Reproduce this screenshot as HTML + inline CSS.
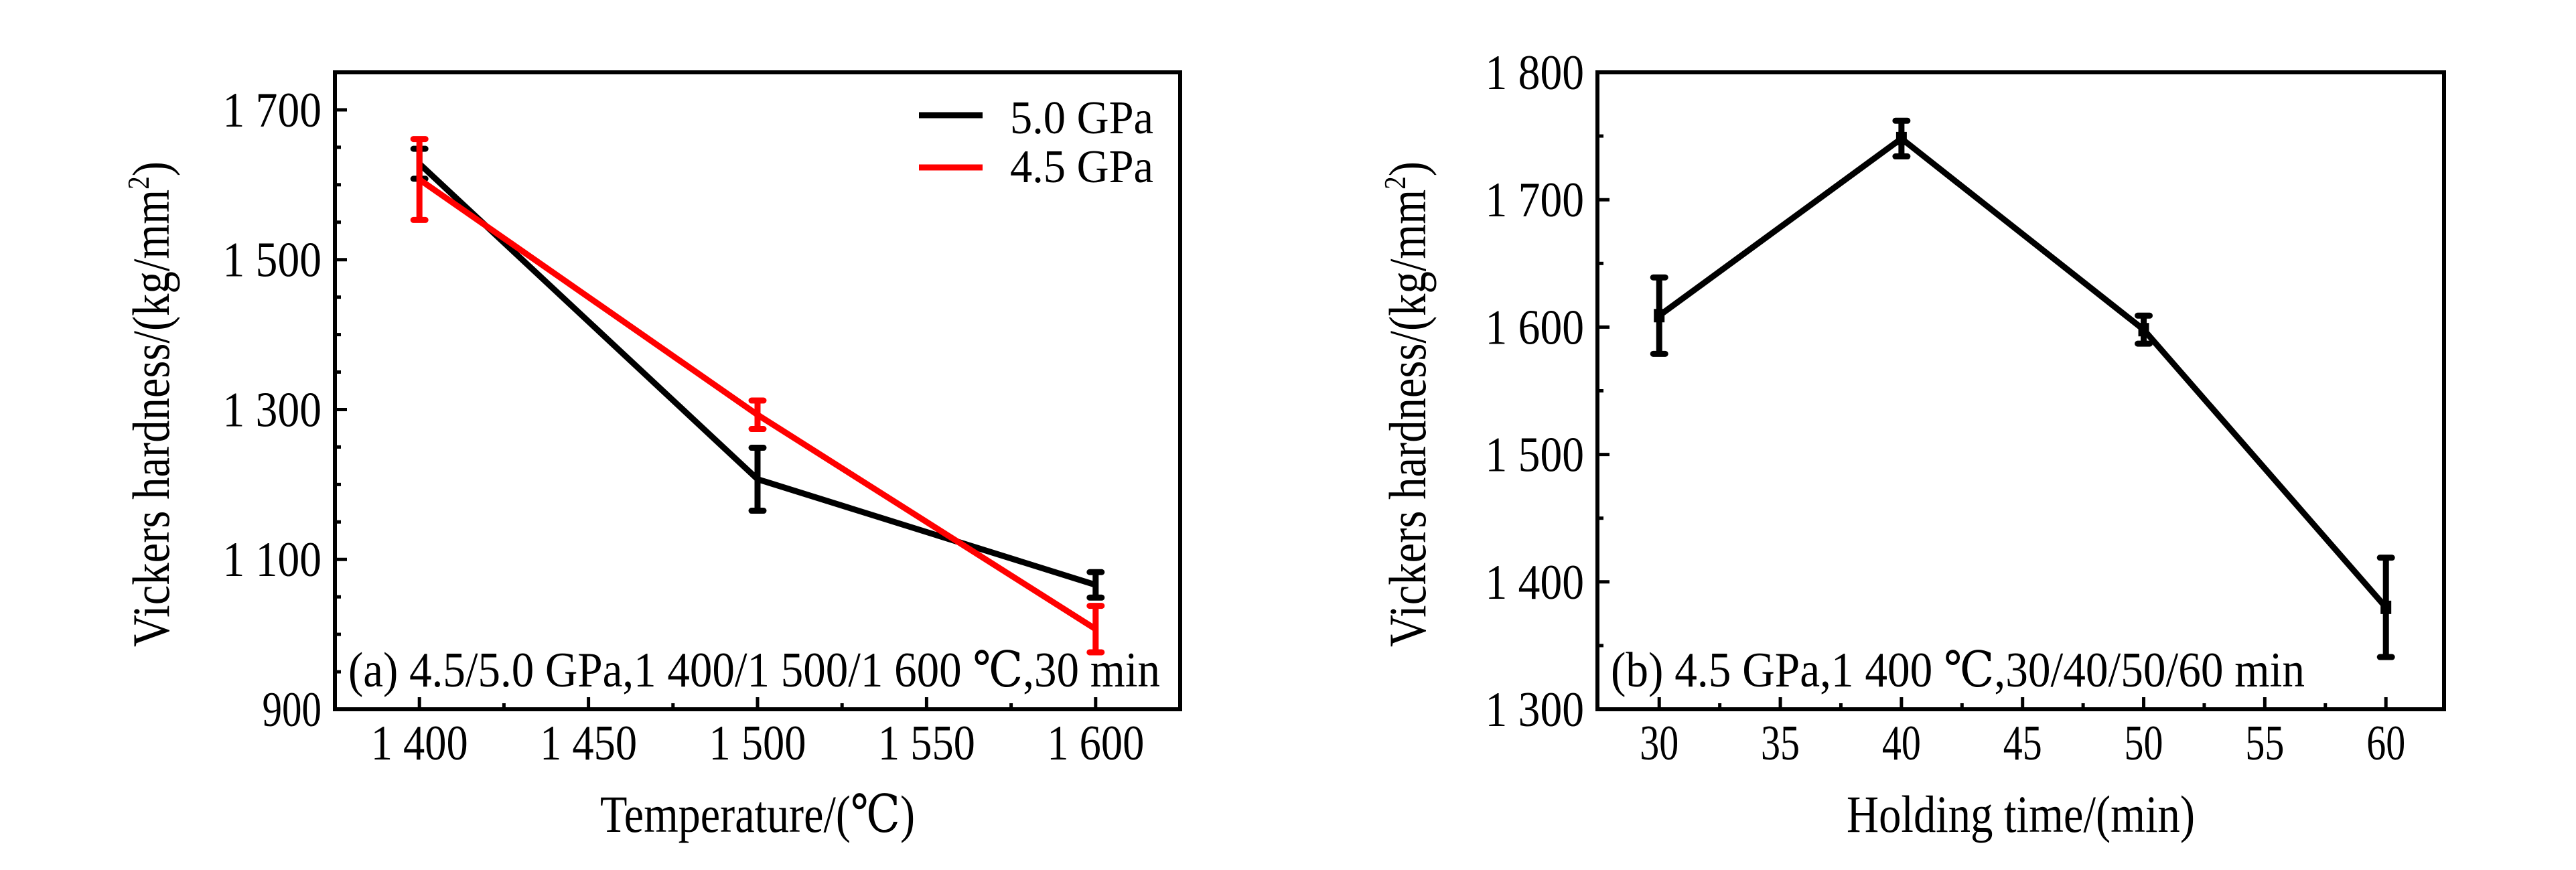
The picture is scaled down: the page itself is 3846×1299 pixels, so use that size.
<!DOCTYPE html>
<html><head><meta charset="utf-8"><style>
html,body{margin:0;padding:0;background:#fff}
svg{display:block}
text{font-family:"Liberation Serif","DejaVu Serif",serif;fill:#000}
</style></head><body>
<svg id="chart" width="3846" height="1299" viewBox="0 0 3846 1299" xmlns="http://www.w3.org/2000/svg" font-family="Liberation Serif, DejaVu Serif, serif"></svg>
<script>
// Panel (a) data
const tempCats = [1400, 1500, 1600];
const hv50 = [1628, 1207, 1066];
const hv50Err = [20, 42, 17];
const hv45 = [1607, 1293, 1007];
const hv45Err = [54, 19, 31];
const aXTicks = [1400, 1450, 1500, 1550, 1600];
const aXLabels = ["1 400", "1 450", "1 500", "1 550", "1 600"];
const aYTicks = [900, 1100, 1300, 1500, 1700];
const aYLabels = ["900", "1 100", "1 300", "1 500", "1 700"];
// Panel (b) data
const timeCats = [30, 40, 50, 60];
const hvTime = [1609, 1748, 1598, 1380];
const hvTimeErr = [30, 14, 11, 39];
const bXTicks = [30, 35, 40, 45, 50, 55, 60];
const bXLabels = ["30", "35", "40", "45", "50", "55", "60"];
const bYTicks = [1300, 1400, 1500, 1600, 1700, 1800];
const bYLabels = ["1 300", "1 400", "1 500", "1 600", "1 700", "1 800"];

const NS = "http://www.w3.org/2000/svg";
const svg = document.getElementById("chart");
const FF = "'Liberation Serif', 'DejaVu Serif', serif";
function mk(tag, attrs, parent) {
  const e = document.createElementNS(NS, tag);
  for (const k in attrs) e.setAttribute(k, attrs[k]);
  (parent || svg).appendChild(e);
  return e;
}
function txt(str, attrs, parent) { attrs["font-family"] = FF; const t = mk("text", attrs, parent); t.textContent = str; return t; }

function panel(cfg) {
  const g = mk("g", {});
  
  
  const L = cfg.L, R = cfg.R, T = cfg.T, B = cfg.B;
  const sx = v => L + (v - cfg.xmin) / (cfg.xmax - cfg.xmin) * (R - L);
  const sy = v => B - (v - cfg.ymin) / (cfg.ymax - cfg.ymin) * (B - T);
  for (let v = cfg.xMinorStart; v <= cfg.xmax; v += cfg.xMinor) {
    const x = sx(v); const major = cfg.xTicks.includes(v);
    const t = mk("line", {x1: x, x2: x, y1: B, y2: B - (major ? 18 : 9), stroke: "#000", "stroke-width": 5}, g);
    
    
  }
  for (let v = cfg.ymin; v <= cfg.ymax; v += cfg.yMinor) {
    const y = sy(v); const major = cfg.yTicks.includes(v);
    const t = mk("line", {x1: L, x2: L + (major ? 18 : 9), y1: y, y2: y, stroke: "#000", "stroke-width": 5}, g);
    
    
  }
  cfg.xTicks.forEach((v, i) => {
    const t = txt(cfg.xLabels[i], {x: sx(v), y: 1134, "font-size": 74, "text-anchor": "middle", textLength: cfg.xLabels[i].length * 29, lengthAdjust: "spacingAndGlyphs"}, g);
    
    
  });
  cfg.yTicks.forEach((v, i) => {
    const t = txt(cfg.yLabels[i], {x: L - 20, y: sy(v) + 25, "font-size": 74, "text-anchor": "end", textLength: cfg.yLabels[i].length * 29.5, lengthAdjust: "spacingAndGlyphs"}, g);
    
    
  });
  cfg.series.forEach(s => {
    const pts = s.cats.map((c, i) => sx(c) + "," + sy(s.vals[i])).join(" ");
    const pl = mk("polyline", {points: pts, fill: "none", stroke: s.color, "stroke-width": 9, "stroke-linejoin": "round"}, g);
    
    
    s.cats.forEach((c, i) => {
      const x = sx(c), y1 = sy(s.vals[i] + s.err[i]), y2 = sy(s.vals[i] - s.err[i]);
      const eb = mk("path", {d: `M${x},${y1}V${y2}M${x-9},${y1}H${x+9}M${x-9},${y2}H${x+9}`, stroke: s.color, "stroke-width": 9, fill: "none", "stroke-linecap": "round"}, g);
      
      
      if (s.marker) {
        const m = mk("rect", {x: x - 8, y: sy(s.vals[i]) - 10, width: 16, height: 20, fill: s.color}, g);
        
        
      }
    });
  });
  const fr = mk("rect", {x: L, y: T, width: R - L, height: B - T, fill: "none", stroke: "#000", "stroke-width": 6}, g);
  
  
  const ann = txt(cfg.ann, {x: L + 20, y: 1025, "font-size": 74, textLength: cfg.annLen, lengthAdjust: "spacingAndGlyphs"}, g);
  
  
  const xt = txt(cfg.xTitle, {x: (L + R) / 2, y: 1242, "font-size": 78, "text-anchor": "middle", textLength: cfg.xTitleLen, lengthAdjust: "spacingAndGlyphs"}, g);
  
  
  const yt = mk("text", {x: 0, y: 0, "font-family": FF, "font-size": 78, "text-anchor": "middle", textLength: 725, lengthAdjust: "spacingAndGlyphs", transform: `translate(${cfg.yTitleX},${(T + B) / 2 + 20}) rotate(-90)`}, g);
  
  
  yt.appendChild(document.createTextNode("Vickers hardness/(kg/mm"));
  const sup = mk("tspan", {dy: -30, "font-size": 46}, yt); sup.textContent = "2";
  const cl = mk("tspan", {dy: 30}, yt); cl.textContent = ")";
  return g;
}

panel({name: "panel-a", L: 500, R: 1762, T: 108, B: 1059, xmin: 1375, xmax: 1625, ymin: 900, ymax: 1750,
  xMinor: 25, xMinorStart: 1400, yMinor: 50, xTicks: aXTicks, xLabels: aXLabels, yTicks: aYTicks, yLabels: aYLabels,
  ann: "(a) 4.5/5.0 GPa,1 400/1 500/1 600 ℃,30 min", annLen: 1212, xTitle: "Temperature/(℃)", xTitleLen: 470, yTitleX: 252,
  series: [
    {name: "series-5-0-gpa", cats: tempCats, vals: hv50, err: hv50Err, color: "#000"},
    {name: "series-4-5-gpa", cats: tempCats, vals: hv45, err: hv45Err, color: "#ff0000"}
  ]});

panel({name: "panel-b", L: 2385, R: 3649, T: 108, B: 1059, xmin: 27.45, xmax: 62.4, ymin: 1300, ymax: 1800,
  xMinor: 2.5, xMinorStart: 30, yMinor: 50, xTicks: bXTicks, xLabels: bXLabels, yTicks: bYTicks, yLabels: bYLabels,
  ann: "(b) 4.5 GPa,1 400 ℃,30/40/50/60 min", annLen: 1036, xTitle: "Holding time/(min)", xTitleLen: 520, yTitleX: 2128,
  series: [
    {name: "series-holding-time", cats: timeCats, vals: hvTime, err: hvTimeErr, color: "#000", marker: true}
  ]});

const lg = mk("g", {});


[["5.0 GPa", "#000", 172, 197], ["4.5 GPa", "#ff0000", 250, 270]].forEach(([lab, col, ly, by]) => {
  const e = mk("g", {}, lg);
  
  
  mk("line", {x1: 1372, x2: 1467, y1: ly, y2: ly, stroke: col, "stroke-width": 9}, e);
  txt(lab, {x: 1508, y: by + 2, "font-size": 70, textLength: 214, lengthAdjust: "spacingAndGlyphs"}, e);
});
</script>
</body></html>
